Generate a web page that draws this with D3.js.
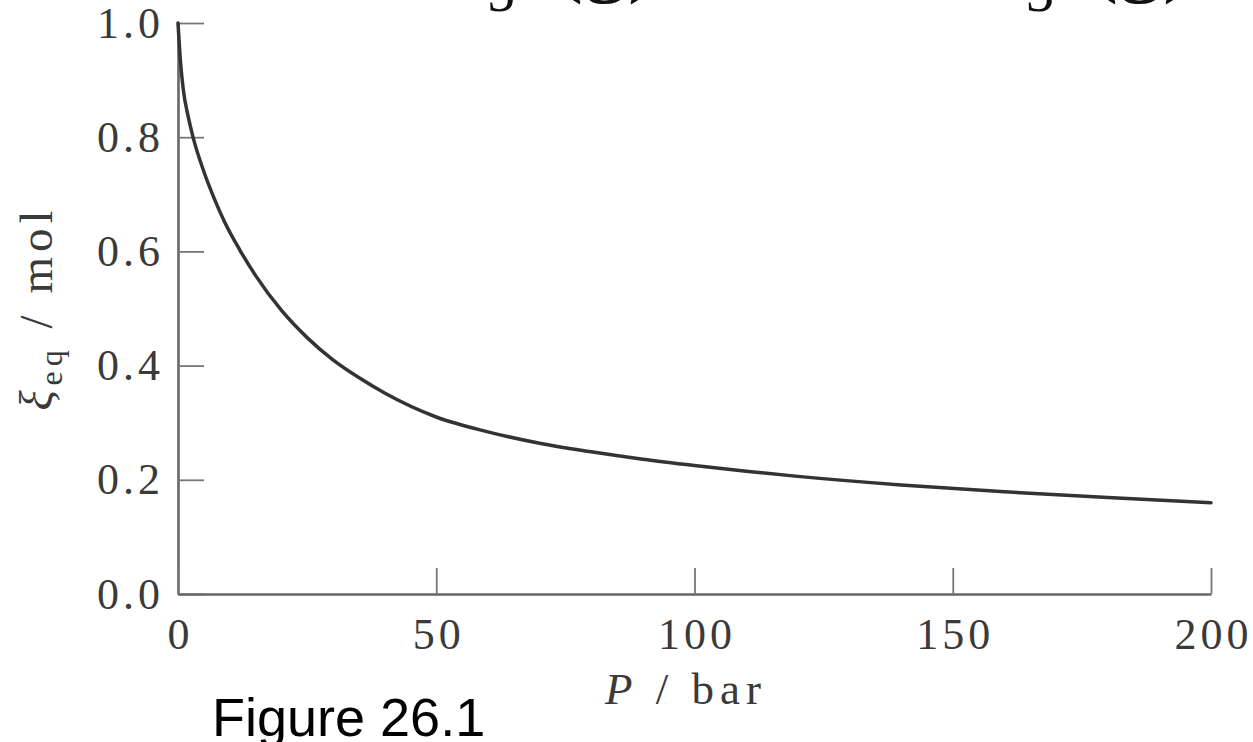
<!DOCTYPE html>
<html>
<head>
<meta charset="utf-8">
<script src="https://cdn.jsdelivr.net/npm/d3@7"></script>
<style>
  html, body { margin: 0; padding: 0; background: #fff; overflow: hidden; }
  svg { display: block; }
</style>
</head>
<body>
<div id="chart"></div>
<script>
// readings from the figure: extent of reaction vs pressure
const pressure = [0, 0.5, 1, 2, 3, 5, 7, 9, 12, 15, 20, 25, 30, 35, 40, 50, 60, 70, 80, 90, 100, 110, 120, 140, 160, 180, 200];
const xiEq     = [1.0, 0.93, 0.885, 0.835, 0.797, 0.74, 0.693, 0.652, 0.602, 0.558, 0.497, 0.449, 0.41, 0.379, 0.352, 0.31, 0.284, 0.264, 0.249, 0.236, 0.225, 0.215, 0.206, 0.191, 0.179, 0.169, 0.16];

const xTicks = [0, 50, 100, 150, 200];
const yTicks = [0, 0.2, 0.4, 0.6, 0.8, 1.0];

const width = 1253, height = 742;
const serif = "'Liberation Serif', 'Times New Roman', serif";

const svg = d3.select("#chart")
    .append("svg")
    .attr("width", width)
    .attr("height", height);

const x = d3.scaleLinear().domain([0, 200]).range([178, 1211]);
const y = d3.scaleLinear().domain([0, 1]).range([594, 23]);

// --- equation from the slide title, mostly above the top edge
const eq = svg.append("text")
    .attr("font-family", serif)
    .attr("fill", "#111");
eq.append("tspan").attr("x", 488).attr("y", -15).attr("font-size", 90).attr("text-anchor", "end").text("PCl");
eq.append("tspan").attr("x", 487).attr("y", 11).attr("font-size", 56).text("5");
eq.append("tspan").attr("x", 553).attr("y", -15).attr("font-size", 90).text("(g) \u21CC PCl");
eq.append("tspan").attr("x", 1026).attr("y", 11).attr("font-size", 56).text("3");
eq.append("tspan").attr("x", 1088).attr("y", -15).attr("font-size", 90).text("(g) + Cl\u2082(g)");

// --- axes
const yAxis = svg.append("g")
    .attr("transform", `translate(${x(0)},0)`)
    .call(d3.axisLeft(y)
        .tickValues(yTicks)
        .tickFormat(d3.format(".1f"))
        .tickSizeInner(-26)
        .tickSizeOuter(0)
        .tickPadding(14));

const xAxis = svg.append("g")
    .attr("transform", `translate(0,${y(0)})`)
    .call(d3.axisBottom(x)
        .tickValues(xTicks)
        .tickFormat(d3.format("d"))
        .tickSizeInner(-26)
        .tickSizeOuter(0)
        .tickPadding(24));

[yAxis, xAxis].forEach(ax => {
    ax.select(".domain").attr("stroke", "#666").attr("stroke-width", 2.6);
    ax.selectAll(".tick line").attr("stroke", "#777").attr("stroke-width", 1.8);
    ax.selectAll(".tick text")
        .attr("font-family", serif)
        .attr("font-size", 44)
        .attr("fill", "#3a3a3a")
        .style("letter-spacing", "4px");
});
xAxis.selectAll(".tick text").attr("dx", 2);

// --- curve
const line = d3.line()
    .x((d, i) => x(pressure[i]))
    .y(d => y(d))
    .curve(d3.curveMonotoneX);

svg.append("path")
    .datum(xiEq)
    .attr("d", line)
    .attr("fill", "none")
    .attr("stroke", "#333")
    .attr("stroke-width", 3.5)
    .attr("stroke-linecap", "round");

// --- axis titles
const yLab = svg.append("text")
    .attr("transform", "translate(52,308) rotate(-90)")
    .attr("text-anchor", "middle")
    .attr("font-family", serif)
    .attr("font-size", 47)
    .attr("fill", "#3a3a3a")
    .style("letter-spacing", "5px");
yLab.append("tspan").attr("font-style", "italic").text("\u03BE");
yLab.append("tspan").attr("font-size", 32).attr("dy", 10).text("eq");
yLab.append("tspan").attr("dy", -10).text(" / mol");

const xLab = svg.append("text")
    .attr("x", 605)
    .attr("y", 704)
    .attr("font-family", serif)
    .attr("font-size", 45)
    .attr("fill", "#3a3a3a")
    .style("letter-spacing", "6px");
xLab.append("tspan").attr("font-style", "italic").text("P");
xLab.append("tspan").text(" / bar");

svg.append("text")
    .attr("x", 212)
    .attr("y", 736)
    .attr("font-family", "'Liberation Sans', Arial, sans-serif")
    .attr("font-size", 54)
    .attr("fill", "#000")
    .text("Figure 26.1");
</script>
</body>
</html>
